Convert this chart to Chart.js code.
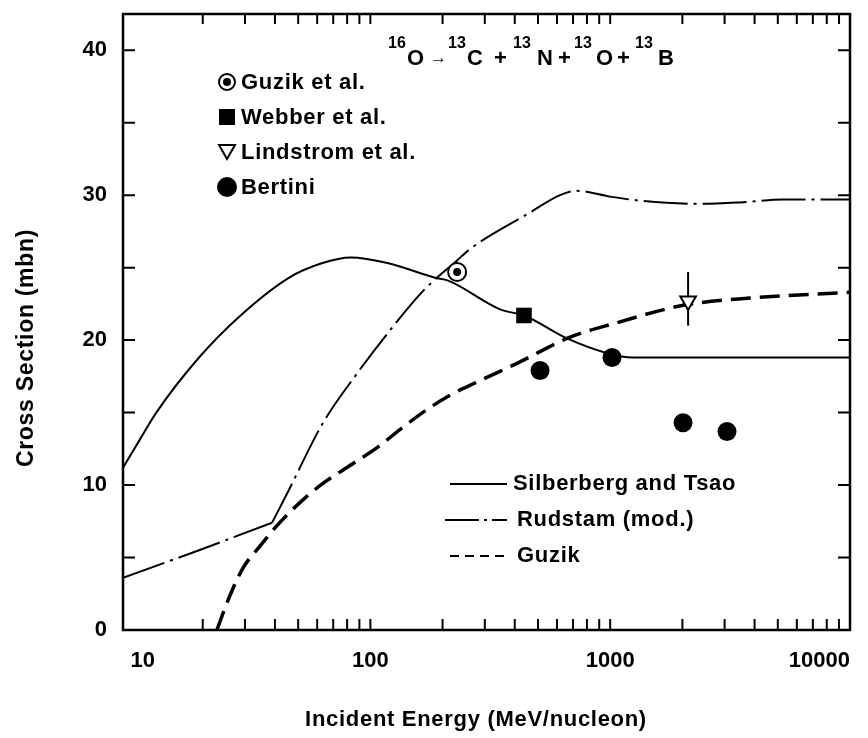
<!DOCTYPE html>
<html>
<head>
<meta charset="utf-8">
<title>16O fragmentation cross section</title>
<script src="https://cdn.jsdelivr.net/npm/chart.js@4.4.1/dist/chart.umd.min.js"></script>
<style>
  html, body { margin: 0; padding: 0; background: #fff; }
  #wrap { width: 868px; height: 738px; }
</style>
</head>
<body>
<div id="wrap"><canvas id="chart" width="868" height="738"></canvas></div>
<script>
// tick labels
const xTickLabels = [10, 100, 1000, 10000];
const yTickLabels = [0, 10, 20, 30, 40];

// Silberberg and Tsao (solid)
const silberbergX = [9.3, 10.9, 12.8, 19.3, 28.3, 45.7, 62.7, 83, 119, 186, 211, 350, 437, 664, 973, 1236, 10000];
const silberbergY = [11.2, 13.1, 15.0, 18.8, 21.6, 24.3, 25.3, 25.7, 25.3, 24.3, 24.1, 22.1, 21.7, 20.1, 19.1, 18.8, 18.8];

// Rudstam (mod.) (dash-dot); straight up to the kink at index 2, curved after it
const rudstamX = [9.3, 19.3, 38.9, 44.9, 63.5, 88, 121, 166, 230, 261, 463, 618, 728, 998, 1370, 2370, 3480, 5260, 10000];
const rudstamY = [3.6, 5.5, 7.4, 9.4, 14.3, 17.7, 20.7, 23.4, 25.5, 26.3, 28.8, 30.0, 30.3, 29.9, 29.6, 29.4, 29.5, 29.7, 29.7];
const rudstamKink = 2;

// Guzik (dashed)
const guzikX = [22.9, 26, 29.5, 34.7, 40.8, 49.4, 62, 85, 107, 137, 172, 215, 278, 409, 680, 1067, 2013, 3830, 10000];
const guzikY = [0, 2.4, 4.3, 5.8, 7.2, 8.6, 10.0, 11.5, 12.6, 14.0, 15.2, 16.2, 17.1, 18.4, 20.2, 21.2, 22.4, 22.9, 23.3];

// measurements
const guzikEtAlX = [230];
const guzikEtAlY = [24.7];
const webberX = [437];
const webberY = [21.7];
const lindstromX = [2113];
const lindstromY = [22.7];
const lindstromErrLow = [21.0];
const lindstromErrHigh = [24.7];
const bertiniX = [510, 1018, 2013, 3070];
const bertiniY = [17.9, 18.8, 14.3, 13.7];

const FONT = '"Liberation Sans", Arial, Helvetica, sans-serif';
Chart.defaults.font.family = FONT;
Chart.defaults.color = '#000';

function pts(xs, ys) {
    return xs.map((x, i) => ({ x: x, y: ys[i] }));
}

const rudstamPts = pts(rudstamX, rudstamY);

// error bar as a two point segment
const errorBar = [];
lindstromX.forEach((x, i) => {
    errorBar.push({ x: x, y: lindstromErrLow[i] });
    errorBar.push({ x: x, y: lindstromErrHigh[i] });
});

// minor tick positions for the frame
const xMinor = [];
[10, 100, 1000].forEach(d => {
    for (let k = 2; k <= 10; k++) xMinor.push(d * k);
});
const yMinor = [5, 10, 15, 20, 25, 30, 35, 40];

function drawMarker(ctx, kind, x, y) {
    ctx.save();
    ctx.fillStyle = '#000';
    ctx.strokeStyle = '#000';
    ctx.lineWidth = 2;
    if (kind === 'dotcircle') {
        ctx.beginPath();
        ctx.arc(x, y, 8, 0, Math.PI * 2);
        ctx.fillStyle = '#fff';
        ctx.fill();
        ctx.stroke();
        ctx.beginPath();
        ctx.arc(x, y, 4, 0, Math.PI * 2);
        ctx.fillStyle = '#000';
        ctx.fill();
    } else if (kind === 'square') {
        ctx.fillRect(x - 8, y - 8, 16, 16);
    } else if (kind === 'triangle') {
        ctx.beginPath();
        ctx.moveTo(x - 8, y - 7);
        ctx.lineTo(x + 8, y - 7);
        ctx.lineTo(x, y + 7);
        ctx.closePath();
        ctx.stroke();
    } else if (kind === 'circle') {
        ctx.beginPath();
        ctx.arc(x, y, 10, 0, Math.PI * 2);
        ctx.fill();
    }
    ctx.restore();
}

const decorations = {
    id: 'decorations',
    afterDatasetsDraw(chart) {
        const { ctx, chartArea: a, scales } = chart;
        const sx = scales.x, sy = scales.y;
        ctx.save();

        // frame
        ctx.strokeStyle = '#000';
        ctx.lineWidth = 2.5;
        ctx.strokeRect(a.left, a.top, a.right - a.left, a.bottom - a.top);

        // inward ticks
        ctx.lineWidth = 2;
        ctx.beginPath();
        xMinor.forEach(v => {
            const px = sx.getPixelForValue(v);
            if (px < a.left + 2 || px > a.right - 2) return;
            ctx.moveTo(px, a.bottom); ctx.lineTo(px, a.bottom - 11);
            ctx.moveTo(px, a.top); ctx.lineTo(px, a.top + 10);
        });
        yMinor.forEach(v => {
            const py = sy.getPixelForValue(v);
            ctx.moveTo(a.left, py); ctx.lineTo(a.left + 12, py);
            ctx.moveTo(a.right, py); ctx.lineTo(a.right - 12, py);
        });
        ctx.stroke();

        // title with superscripts
        const runs = [
            ['16', 'sup', 388], ['O', 'main', 407], ['\u2192', 'arrow', 430],
            ['13', 'sup', 448], ['C', 'main', 467], ['+', 'main', 494],
            ['13', 'sup', 513], ['N', 'main', 537], ['+', 'main', 558],
            ['13', 'sup', 574], ['O', 'main', 596], ['+', 'main', 617],
            ['13', 'sup', 635], ['B', 'main', 658]
        ];
        ctx.fillStyle = '#000';
        ctx.textAlign = 'left';
        ctx.textBaseline = 'alphabetic';
        runs.forEach(([t, kind, x]) => {
            if (kind === 'sup') {
                ctx.font = 'bold 16px ' + FONT;
                ctx.fillText(t, x, 48);
            } else if (kind === 'arrow') {
                ctx.font = 'bold 17px ' + FONT;
                ctx.fillText(t, x, 63);
            } else {
                ctx.font = 'bold 22px ' + FONT;
                ctx.fillText(t, x, 65);
            }
        });

        // marker legend (top left)
        const markerLegend = [
            ['dotcircle', 'Guzik et al.'],
            ['square', 'Webber et al.'],
            ['triangle', 'Lindstrom et al.'],
            ['circle', 'Bertini']
        ];
        ctx.font = 'bold 22px ' + FONT;
        ctx.textBaseline = 'middle';
        ctx.letterSpacing = '0.7px';
        markerLegend.forEach(([kind, label], i) => {
            const y = 82 + i * 35;
            drawMarker(ctx, kind, 227, y);
            ctx.fillText(label, 241, y + 1);
        });

        // line legend (bottom right)
        const lineLegend = [
            [[], 2, 'Silberberg and Tsao'],
            [[34, 5, 3, 5], 2, 'Rudstam (mod.)'],
            [[9, 6], 2, 'Guzik']
        ];
        lineLegend.forEach(([dash, w, label], i) => {
            const y = 484 + i * 36;
            ctx.beginPath();
            ctx.setLineDash(dash);
            ctx.lineWidth = w;
            ctx.moveTo(i === 1 ? 445 : 450, y);
            ctx.lineTo(507, y);
            ctx.stroke();
            ctx.setLineDash([]);
            ctx.fillText(label, i === 0 ? 513 : 517, y);
        });

        // axis titles
        ctx.font = 'bold 22px ' + FONT;
        ctx.textAlign = 'center';
        ctx.fillText('Incident Energy (MeV/nucleon)', 476, 720);
        ctx.save();
        ctx.translate(27, 348);
        ctx.rotate(-Math.PI / 2);
        ctx.font = 'bold 23px ' + FONT;
        ctx.fillText('Cross Section (mbn)', 0, 0);
        ctx.restore();

        ctx.restore();
    }
};

const lineBase = {
    type: 'line',
    pointRadius: 0,
    borderColor: '#000',
    fill: false,
    cubicInterpolationMode: 'monotone',
    order: 3
};

new Chart(document.getElementById('chart').getContext('2d'), {
    type: 'line',
    data: {
        datasets: [
            Object.assign({}, lineBase, { label: 'Silberberg and Tsao', data: pts(silberbergX, silberbergY), borderWidth: 2 }),
            Object.assign({}, lineBase, {
                label: 'Rudstam (mod.) low', data: rudstamPts.slice(0, rudstamKink + 1),
                borderWidth: 2, borderDash: [44, 6, 3, 6], cubicInterpolationMode: 'default', tension: 0
            }),
            Object.assign({}, lineBase, {
                label: 'Rudstam (mod.)', data: rudstamPts.slice(rudstamKink),
                borderWidth: 2, borderDash: [44, 6, 3, 6]
            }),
            Object.assign({}, lineBase, { label: 'Guzik', data: pts(guzikX, guzikY), borderWidth: 3.5, borderDash: [20, 9] }),
            {
                type: 'line', label: 'Lindstrom error', data: errorBar, borderColor: '#000',
                borderWidth: 2, pointRadius: 0, showLine: true, order: 2
            },
            {
                type: 'scatter', label: 'Guzik et al. ring', data: pts(guzikEtAlX, guzikEtAlY),
                pointStyle: 'circle', pointRadius: 9, backgroundColor: '#fff', borderColor: '#000', borderWidth: 2, order: 1
            },
            {
                type: 'scatter', label: 'Guzik et al.', data: pts(guzikEtAlX, guzikEtAlY),
                pointStyle: 'circle', pointRadius: 4, backgroundColor: '#000', borderColor: '#000', borderWidth: 0, order: 0
            },
            {
                type: 'scatter', label: 'Webber et al.', data: pts(webberX, webberY),
                pointStyle: 'rect', pointRadius: 11, backgroundColor: '#000', borderColor: '#000', borderWidth: 0, order: 0
            },
            {
                type: 'scatter', label: 'Lindstrom et al.', data: pts(lindstromX, lindstromY),
                pointStyle: 'triangle', rotation: 180, pointRadius: 9, backgroundColor: '#fff', borderColor: '#000', borderWidth: 2, order: 0
            },
            {
                type: 'scatter', label: 'Bertini', data: pts(bertiniX, bertiniY),
                pointStyle: 'circle', pointRadius: 9.5, backgroundColor: '#000', borderColor: '#000', borderWidth: 0, order: 0
            }
        ]
    },
    options: {
        responsive: false,
        animation: false,
        devicePixelRatio: 1,
        layout: { padding: { left: 0, right: 18, top: 14, bottom: 0 } },
        plugins: {
            legend: { display: false },
            tooltip: { enabled: false },
            title: { display: false }
        },
        scales: {
            x: {
                type: 'logarithmic',
                min: 9.3,
                max: 10000,
                grid: { display: false },
                border: { display: false },
                afterBuildTicks: (axis) => { axis.ticks = xTickLabels.map(v => ({ value: v })); },
                afterFit: (scale) => { scale.height = 108; scale.paddingLeft = 0; scale.paddingRight = 0; },
                ticks: {
                    autoSkip: false,
                    maxRotation: 0,
                    align: 'inner',
                    padding: 10,
                    font: { size: 22, weight: 'bold' },
                    color: '#000',
                    callback: (v) => String(v)
                }
            },
            y: {
                type: 'linear',
                min: 0,
                max: 42.5,
                grid: { display: false },
                border: { display: false },
                afterBuildTicks: (axis) => { axis.ticks = yTickLabels.map(v => ({ value: v })); },
                afterFit: (scale) => { scale.width = 123; scale.paddingTop = 0; scale.paddingBottom = 0; },
                ticks: {
                    padding: 8,
                    font: { size: 22, weight: 'bold' },
                    color: '#000',
                    callback: (v) => String(v)
                }
            }
        }
    },
    plugins: [decorations]
});
</script>
</body>
</html>
